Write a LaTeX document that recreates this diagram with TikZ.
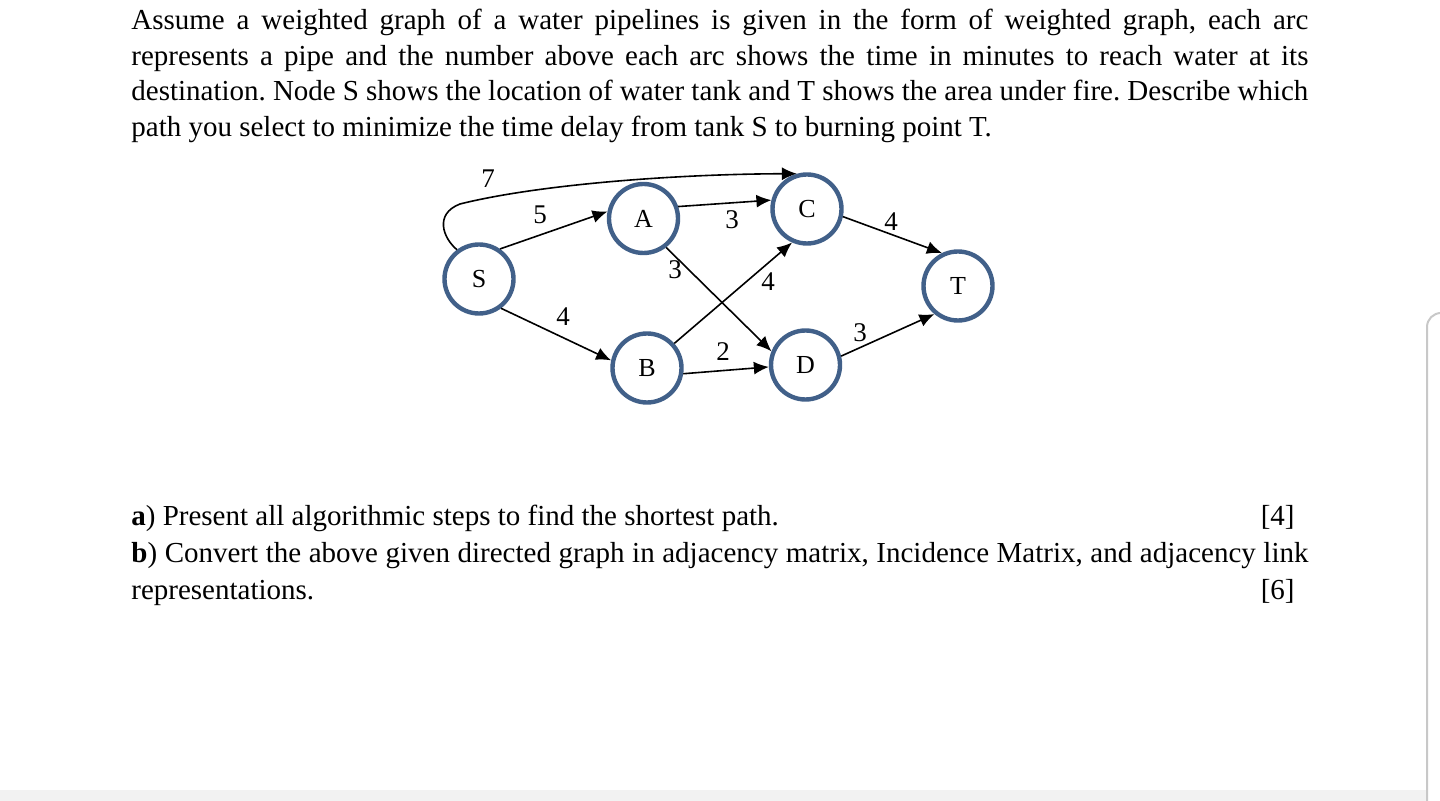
\documentclass[tikz,border=0pt]{standalone}
\usepackage{fontspec}
\setmainfont{Liberation Serif}
\usetikzlibrary{arrows.meta}

\definecolor{ringblue}{RGB}{65,96,137}
\definecolor{framegray}{RGB}{200,200,200}
\definecolor{bandgray}{RGB}{242,242,242}

\tikzset{
  vertex/.style={circle, draw=ringblue, line width=2.2pt, minimum size=34.5pt,
    inner sep=0pt, font=\fontsize{13}{15}\selectfont},
  pipe/.style={-{Latex[length=7.5pt,width=6.5pt]}, line width=0.8pt},
  wt/.style={inner sep=0pt, font=\fontsize{13.5}{15}\selectfont},
  para/.style={inner sep=0pt, anchor=base west, text width=588.5pt, align=justify,
    font=\fontsize{14.5}{17.75}\selectfont\frenchspacing},
  scoretag/.style={inner sep=0pt, anchor=base east, font=\fontsize{14.5}{17.5}\selectfont},
}

\begin{document}
\begin{tikzpicture}[x=0.5pt, y=-0.5pt]
    \useasboundingbox (0,0) rectangle (1440,801);

    % window edge and lower band
    \fill[bandgray] (0,790) rectangle (1427,801);
    \draw[framegray, line width=1pt, rounded corners=7pt] (1427,801) -- (1427,313) -- (1446,313);

    % question text
    \node[para] (intro) at (131,30) {%
        Assume a weighted graph of a water pipelines is given in the form of weighted graph, each arc\linebreak
        represents a pipe and the number above each arc shows the time in minutes to reach water at its\linebreak
        destination. Node S shows the location of water tank and T shows the area under fire. Describe which\linebreak
        path you select to minimize the time delay from tank S to burning point T.};

    % pipeline graph
    \node[vertex] (S) at (479,279) {S};
    \node[vertex] (A) at (643.5,218.5) {A};
    \node[vertex] (B) at (647,368) {B};
    \node[vertex] (C) at (807,209) {C};
    \node[vertex] (D) at (805.5,365) {D};
    \node[vertex] (T) at (958,286) {T};

    \draw[pipe] (S.127) .. controls (443,238) and (434,214) .. (460,204)
        .. controls (540,184) and (680,174) .. (C.106);
    \draw[pipe] (S.55) -- (A.169);
    \draw[pipe] (S.-53) -- (B.168);
    \draw[pipe] (A.19) -- (C.166);
    \draw[pipe] (A.-52) -- (D.158);
    \draw[pipe] (B.42) -- (C.-114);
    \draw[pipe] (B.-9) -- (D.183);
    \draw[pipe] (C.-12) -- (T.116);
    \draw[pipe] (D.14) -- (T.-130);

    \node[wt] (wSC) at (488,179) {7};
    \node[wt] (wSA) at (540,215) {5};
    \node[wt] (wSB) at (563,317) {4};
    \node[wt] (wAC) at (732,220) {3};
    \node[wt] (wAD) at (675,270) {3};
    \node[wt] (wBC) at (768,282) {4};
    \node[wt] (wBD) at (723,352) {2};
    \node[wt] (wCT) at (891,222) {4};
    \node[wt] (wDT) at (860,333) {3};

    % parts of the question
    \node[para] (partA) at (131,526) {\textbf{a}) Present all algorithmic steps to find the shortest path.};
    \node[scoretag] (markA) at (1295,526) {[4]};
    \node[para, font=\fontsize{14.5}{18.5}\selectfont\frenchspacing] (partB) at (131,563) {%
        \textbf{b}) Convert the above given directed graph in adjacency matrix, Incidence Matrix, and adjacency link\linebreak
        representations.};
    \node[scoretag] (markB) at (1295,600) {[6]};
\end{tikzpicture}
\end{document}
